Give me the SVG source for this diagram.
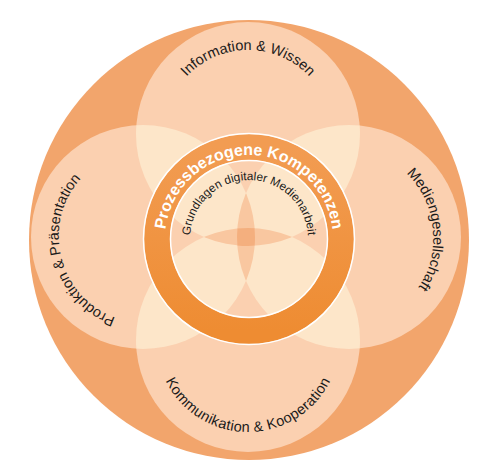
<svg xmlns="http://www.w3.org/2000/svg" width="500" height="475" viewBox="0 0 500 475">
  <defs>
    <style>
      .outer { fill: #F2A56C; }
      .petal { fill: #FBD0B0; }
      .two { fill: #FDE6C9; }
      .three { fill: #F9C7A0; }
      .four { fill: #F4AF7E; }
      .lbl { font-family: "Liberation Sans", Arial, sans-serif; font-size: 14.5px; fill: #1a1a1a; }
      .ringlbl { font-family: "Liberation Sans", Arial, sans-serif; font-size: 16px; font-weight: bold; fill: #ffffff; }
      .innerlbl { font-family: "Liberation Sans", Arial, sans-serif; font-size: 11.8px; fill: #1a1a1a; }
    </style>
    <linearGradient id="ringGrad" x1="0" y1="0" x2="0" y2="1">
      <stop offset="0" stop-color="#F29C52"/>
      <stop offset="1" stop-color="#EE8C32"/>
    </linearGradient>
    <clipPath id="cT"><circle cx="248" cy="134" r="112"/></clipPath>
    <clipPath id="cB"><circle cx="248" cy="340" r="112"/></clipPath>
    <clipPath id="cL"><circle cx="143" cy="237" r="112"/></clipPath>
    <clipPath id="cR"><circle cx="349" cy="237" r="112"/></clipPath>
    <path id="pTop" d="M 248,218 A 84 84 0 1 1 248,50 A 84 84 0 1 1 248,218"/>
    <path id="pRight" d="M 265.5,245.8 A 84 84 0 1 1 432.5,228.2 A 84 84 0 1 1 265.5,245.8"/>
    <path id="pLeft" d="M 224.5,216.7 A 84 84 0 1 1 61.5,257.3 A 84 84 0 1 1 224.5,216.7"/>
    <path id="pBottom" d="M 248,248 A 92 92 0 1 0 248,432 A 92 92 0 1 0 248,248"/>
    <path id="pRing" d="M 249,323 A 84 84 0 1 1 249,155 A 84 84 0 1 1 249,323"/>
    <path id="pInner" d="M 249,298 A 59 59 0 1 1 249,180 A 59 59 0 1 1 249,298"/>
  </defs>

  <g id="outer-circle">
    <circle class="outer" cx="249" cy="240" r="220"/>
  </g>

  <g id="petal-information">
    <circle class="petal" cx="248" cy="134" r="112"/>
  </g>
  <g id="petal-kommunikation">
    <circle class="petal" cx="248" cy="340" r="112"/>
  </g>
  <g id="petal-produktion">
    <circle class="petal" cx="143" cy="237" r="112"/>
  </g>
  <g id="petal-mediengesellschaft">
    <circle class="petal" cx="349" cy="237" r="112"/>
  </g>

  <g id="overlaps">
    <circle class="two" cx="248" cy="134" r="112" clip-path="url(#cL)"/>
    <circle class="two" cx="248" cy="134" r="112" clip-path="url(#cR)"/>
    <circle class="two" cx="248" cy="340" r="112" clip-path="url(#cL)"/>
    <circle class="two" cx="248" cy="340" r="112" clip-path="url(#cR)"/>
    <circle class="three" cx="143" cy="237" r="112" clip-path="url(#cR)"/>
    <circle class="three" cx="248" cy="134" r="112" clip-path="url(#cB)"/>
    <g clip-path="url(#cR)">
      <g clip-path="url(#cT)">
        <circle class="four" cx="248" cy="340" r="112" clip-path="url(#cL)"/>
      </g>
    </g>
  </g>

  <g id="ring">
    <circle cx="249" cy="239" r="92" fill="none" stroke="url(#ringGrad)" stroke-width="26"/>
    <circle cx="249" cy="239" r="105.5" fill="none" stroke="#ffffff" stroke-width="1.5"/>
    <circle cx="249" cy="239" r="78.5" fill="none" stroke="#ffffff" stroke-width="1.5"/>
    <text class="ringlbl"><textPath href="#pRing" startOffset="50%" text-anchor="middle">Prozessbezogene Kompetenzen</textPath></text>
    <text class="innerlbl"><textPath href="#pInner" startOffset="50%" text-anchor="middle">Grundlagen digitaler Medienarbeit</textPath></text>
  </g>

  <g id="labels">
    <text class="lbl"><textPath href="#pTop" startOffset="50%" text-anchor="middle">Information &amp; Wissen</textPath></text>
    <text class="lbl"><textPath href="#pRight" startOffset="50%" text-anchor="middle">Mediengesellschaft</textPath></text>
    <text class="lbl"><textPath href="#pLeft" startOffset="50%" text-anchor="middle">Produktion &amp; Präsentation</textPath></text>
    <text class="lbl" letter-spacing="0.3"><textPath href="#pBottom" startOffset="50%" text-anchor="middle">Kommunikation &amp; Kooperation</textPath></text>
  </g>
</svg>
